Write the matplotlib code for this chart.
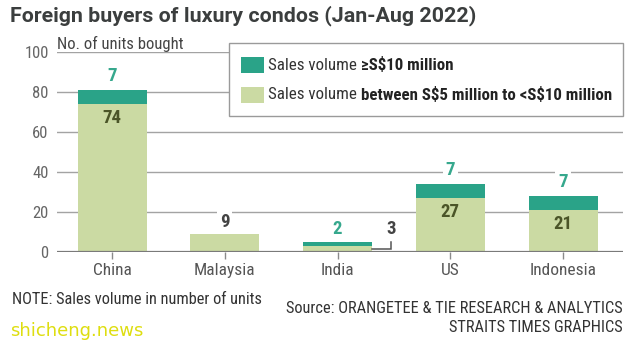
import matplotlib
matplotlib.use("Agg")
import matplotlib.pyplot as plt
from matplotlib.patches import Rectangle
import logging
logging.getLogger("matplotlib.font_manager").setLevel(logging.ERROR)

# Data
countries = ["China", "Malaysia", "India", "US", "Indonesia"]
mid_range = [74, 9, 3, 27, 21]      # S$5 million to <S$10 million
top_range = [7, 0, 2, 7, 7]         # >= S$10 million
yticks = [0, 20, 40, 60, 80, 100]

FONT = ["Roboto Condensed", "Barlow Semi Condensed", "DejaVu Sans"]
plt.rcParams["font.family"] = FONT

TEAL = "#2aa388"
LIGHT = "#cbdaa3"
TEAL_TXT = "#36a88d"
OLIVE_TXT = "#4b5528"
DARK = "#3b3e3e"
GRID = "#a3a3a3"

W, H = 640, 347
fig = plt.figure(figsize=(W / 100, H / 100), dpi=100)
fig.patch.set_facecolor("white")

def fx(px):
    return px / W

def fy(py):
    return 1 - py / H

ax = fig.add_axes([fx(57), fy(251.5), fx(623) - fx(57), fy(51.7) - fy(251.5)])
ax.set_xlim(-0.488, 4.532)
ax.set_ylim(0, 100)
for s in ax.spines.values():
    s.set_visible(False)

# horizontal gridlines
for v in yticks[1:]:
    ax.axhline(v, color=GRID, lw=1.0, zorder=0)
ax.axhline(0, color="#7a7a7a", lw=1.6, zorder=3)

x = list(range(len(countries)))
bw = 0.612
ax.bar(x, mid_range, width=bw, color=LIGHT, zorder=2)
ax.bar(x, top_range, width=bw, bottom=mid_range, color=TEAL, zorder=2)

ax.set_yticks(yticks)
ax.set_yticklabels([str(v) for v in yticks], color="#666666", fontsize=12)
ax.tick_params(axis="y", length=0, pad=6)
ax.set_xticks(x)
ax.set_xticklabels(countries, color="#555555", fontsize=12.5)
ax.tick_params(axis="x", length=5, width=1, color="#8a8a8a", pad=3)

ax.text(0, 1.0, "No. of units bought", transform=ax.transAxes, ha="left",
        va="bottom", fontsize=12, color="#444444")

box = dict(boxstyle="square,pad=0.15", fc="white", ec="none")

for i, (m, t) in enumerate(zip(mid_range, top_range)):
    total = m + t
    if t and m > 5:
        # teal value above, light value inside
        ax.annotate(str(t), (i, total), xytext=(0, 9.5), textcoords="offset points",
                    ha="center", va="center", fontsize=13.5, fontweight="bold",
                    color=TEAL_TXT, bbox=box, zorder=4)
        ax.annotate(str(m), (i, m), xytext=(0, -10.5), textcoords="offset points",
                    ha="center", va="center", fontsize=13.5, fontweight="bold",
                    color=OLIVE_TXT, zorder=4)
    elif t:
        # small bar: teal value above, light value to the side with a bracket
        ax.annotate(str(t), (i, total), xytext=(0, 9), textcoords="offset points",
                    ha="center", va="center", fontsize=13.5, fontweight="bold",
                    color=TEAL_TXT, bbox=box, zorder=4)
        xr = i + bw / 2
        xl = i + 0.475
        ax.plot([xr, xl, xl], [m / 2, m / 2, total], color="#555555", lw=1.1,
                zorder=4, solid_joinstyle="miter")
        ax.annotate(str(m), (xl, total), xytext=(0, 9), textcoords="offset points",
                    ha="center", va="center", fontsize=13.5, fontweight="bold",
                    color="#444444", bbox=box, zorder=4)
    else:
        ax.annotate(str(m), (i, m), xytext=(0, 8.5), textcoords="offset points",
                    ha="center", va="center", fontsize=13.5, fontweight="bold",
                    color="#444444", bbox=box, zorder=4)

# legend box
lg = Rectangle((fx(229), fy(116)), fx(623) - fx(229), fy(43.3) - fy(116),
               transform=fig.transFigure, fc="white", ec="#9a9a9a", lw=1.0, zorder=5)
fig.add_artist(lg)
fig.add_artist(Rectangle((fx(240.7), fy(73)), fx(264) - fx(240.7), fy(56.7) - fy(73),
                         transform=fig.transFigure, fc=TEAL, ec="none", zorder=6))
fig.add_artist(Rectangle((fx(240.7), fy(103)), fx(264) - fx(240.7), fy(86.7) - fy(103),
                         transform=fig.transFigure, fc=LIGHT, ec="none", zorder=6))

fig.canvas.draw()
renderer = fig.canvas.get_renderer()
for ypx, bold in [(65, r"≥S\$10 million"), (95, r"between S\$5 million to <S\$10 million")]:
    t1 = fig.text(fx(268), fy(ypx), "Sales volume ", ha="left", va="center",
                  fontsize=12.2, color="#333333", zorder=7)
    bb = t1.get_window_extent(renderer)
    fig.text(bb.x1 / W, fy(ypx), bold, ha="left", va="center", fontsize=12.2,
             fontweight="bold", color="#222222", zorder=7)

fig.text(fx(10), fy(21.3), "Foreign buyers of luxury condos (Jan-Aug 2022)", ha="left",
         va="baseline", fontsize=15.4, fontweight="bold", color=DARK,
         family=["Roboto", "DejaVu Sans"])
fig.text(fx(12), fy(299), "NOTE: Sales volume in number of units", ha="left",
         va="center", fontsize=11.8, color="#333333")
fig.text(fx(623), fy(308.5), "Source: ORANGETEE & TIE RESEARCH & ANALYTICS", ha="right",
         va="center", fontsize=11.8, color="#333333")
fig.text(fx(623), fy(327.5), "STRAITS TIMES GRAPHICS", ha="right",
         va="center", fontsize=11.8, color="#333333")
fig.text(fx(10), fy(331), "shicheng.news", ha="left", va="center", fontsize=13,
         color="#dede10", family="DejaVu Sans")

fig.savefig("out.png", dpi=100, facecolor="white")
